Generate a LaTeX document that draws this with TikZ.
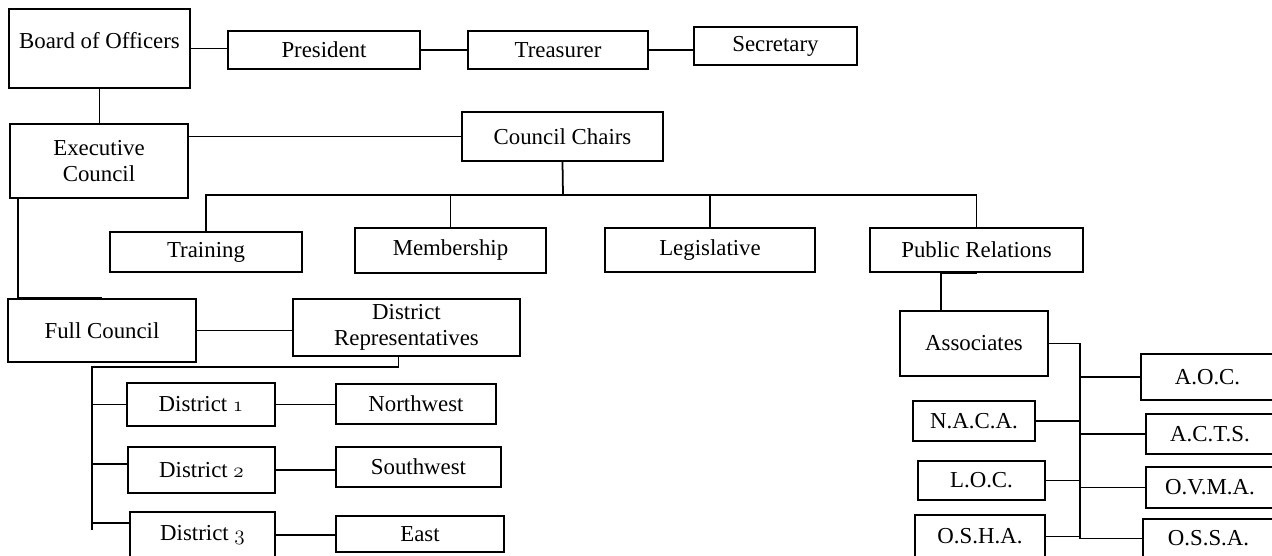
\documentclass[tikz,border=0pt]{standalone}
\usepackage{fontspec}
\setmainfont{Liberation Serif}
\usetikzlibrary{calc,positioning}
\newcommand\osnum[1]{{\usefont{OML}{cmm}{m}{it}#1}}
\tikzset{bx/.style 2 args={draw,minimum width=#1*0.02cm,minimum height=#2*0.02cm,inner sep=0pt,align=center,font=\fontsize{13}{14.7}\selectfont}}
\begin{document}
\begin{tikzpicture}[x=0.02cm,y=-0.02cm,line width=1pt]
\useasboundingbox (0,0) rectangle (1272,555);
\node[bx={181}{79},text depth=9pt] (bo) at (99.5,48.5) {Board of Officers};
\node[bx={192}{38}] (pres) at (324,50) {President};
\node[bx={180}{38}] (trea) at (558,50) {Treasurer};
\node[bx={163}{38}] (sec) at (775.5,46) {Secretary};
\node[bx={178}{74}] (exec) at (99,161) {Executive\\Council};
\node[bx={201}{49}] (chairs) at (562.5,136.5) {Council Chairs};
\node[bx={192}{40}] (train) at (206,252) {Training};
\node[bx={191}{45}] (memb) at (450.5,250.5) {Membership};
\node[bx={210}{44}] (legis) at (710,250) {Legislative};
\node[bx={213}{44}] (pubrel) at (976.5,250) {Public Relations};
\node[bx={148}{65}] (assoc) at (974,343.5) {Associates};
\node[bx={133}{46}] (aoc) at (1207.5,377) {A.O.C.};
\node[bx={122}{40}] (naca) at (974,421) {N.A.C.A.};
\node[bx={128}{40}] (acts) at (1210,434) {A.C.T.S.};
\node[bx={127}{39}] (loc) at (981.5,480.5) {L.O.C.};
\node[bx={128}{41}] (ovma) at (1210,487.5) {O.V.M.A.};
\node[bx={130}{43}] (osha) at (980,536.5) {O.S.H.A.};
\node[bx={131}{39}] (ossa) at (1208.5,538.5) {O.S.S.A.};
\node[bx={188}{63}] (full) at (102,330.5) {Full Council};
\node[bx={227}{57}] (reps) at (406.5,327.5) {District\\Representatives};
\node[bx={148}{43}] (d1) at (201,404.5) {District \osnum{1}};
\node[bx={160}{40}] (nw) at (416,404) {Northwest};
\node[bx={147}{46}] (d2) at (201.5,470) {District \osnum{2}};
\node[bx={165}{40}] (sw) at (418.5,467) {Southwest};
\node[bx={145}{46}] (d3) at (202.5,535) {District \osnum{3}};
\node[bx={168}{36}] (east) at (420,534) {East};
\draw (bo.east) -- (bo.east -| pres.west);
\draw (pres.east) -- (pres.east -| trea.west);
\draw (trea.east) -- (trea.east -| sec.west);
\draw (bo.south) -- (bo.south |- exec.north);
\draw (exec.east |- chairs.west) -- (chairs.west);
\coordinate (cbus) at (563,195);
\draw (chairs.south) -- (cbus);
\draw (train.north) |- (cbus) -| (pubrel.north);
\draw (memb.north) -- (memb.north |- cbus);
\draw (legis.north) -- (legis.north |- cbus);
\draw ([xshift=-0.66cm]assoc.north) |- (pubrel.south);
\coordinate (abus) at (1080,343.5);
\coordinate (aend) at (1080,538.5);
\draw (assoc.east) -- (abus) -- (aend);
\foreach \n in {aoc,acts,ovma,ossa} \draw (\n.west) -- (\n.west -| abus);
\foreach \n in {naca,loc,osha} \draw (\n.east) -- (\n.east -| abus);
\draw ([xshift=0.18cm]exec.south west) |- (full.north);
\draw (full.east) -- (full.east -| reps.west);
\coordinate (dbus) at (92,367);
\coordinate (dend) at (92,530);
\draw ([xshift=-0.16cm]reps.south) |- (dbus) -- (dend);
\draw (d1.west) -- (d1.west -| dbus);
\draw ([yshift=0.12cm]d2.west) -- ([yshift=0.12cm]d2.west -| dbus);
\draw ([yshift=0.24cm]d3.west) -- ([yshift=0.24cm]d3.west -| dbus);
\foreach \n/\m in {d1/nw,d2/sw,d3/east} \draw (\n.east) -- (\n.east -| \m.west);
\end{tikzpicture}
\end{document}
